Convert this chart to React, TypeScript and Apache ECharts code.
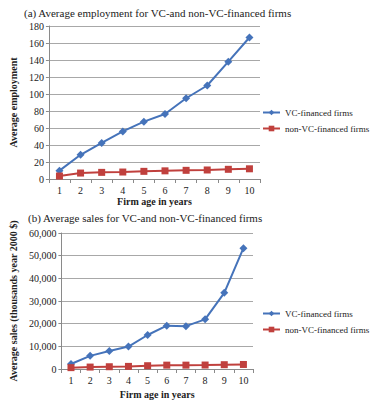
import React, { useEffect, useRef } from "react";
import * as echarts from "echarts";

const ages = ["1", "2", "3", "4", "5", "6", "7", "8", "9", "10"];
const empVC = [9.8, 28.5, 42.5, 56, 67.5, 76.5, 95, 110, 138, 166.5];
const empNonVC = [3.5, 7, 7.8, 8.2, 9, 9.6, 10.2, 10.6, 11.4, 12];
const salesVC = [2200, 5800, 7900, 9900, 15000, 19100, 18900, 21900, 33600, 53300];
const salesNonVC = [600, 850, 1000, 1150, 1450, 1700, 1700, 1750, 1900, 2000];

const titleA = "(a) Average employment for VC-and non-VC-financed firms";
const titleB = "(b) Average sales for VC-and non-VC-financed firms";
const seriesNames = ["VC-financed firms", "non-VC-financed firms"];

const FONT = "Liberation Serif";
const BLUE = "#4573BA";
const RED = "#C0403D";
const TXT = "#222";

export default function App() {
  const ref = useRef<HTMLDivElement>(null);
  useEffect(() => {
    if (!ref.current) return;
    const chart = echarts.init(ref.current, undefined, { renderer: "svg" });
    const xAxisBase = (gridIndex: number, nameGap: number) => ({
      type: "category",
      gridIndex,
      data: ages,
      boundaryGap: true,
      name: "Firm age in years",
      nameLocation: "middle",
      nameGap,
      nameTextStyle: { fontFamily: FONT, fontSize: 10, fontWeight: "bold", color: TXT },
      axisLine: { lineStyle: { color: "#8a8a8a" } },
      axisTick: { show: true, length: 4, lineStyle: { color: "#8a8a8a" } },
      axisLabel: { fontFamily: FONT, fontSize: 10, color: TXT, margin: 6 },
    });
    const yAxisBase = (gridIndex: number, name: string, max: number, interval: number, nameGap: number, fmt?: (v: number) => string) => ({
      type: "value",
      gridIndex,
      min: 0,
      max,
      interval,
      name,
      nameLocation: "middle",
      nameGap,
      nameTextStyle: { fontFamily: FONT, fontSize: 10, fontWeight: "bold", color: TXT },
      axisLine: { show: true, lineStyle: { color: "#8a8a8a" } },
      axisTick: { show: true, length: 3, lineStyle: { color: "#8a8a8a" } },
      axisLabel: { fontFamily: FONT, fontSize: 10, color: TXT, margin: 5, formatter: fmt },
      splitLine: { lineStyle: { color: "#a8a8a8" } },
    });
    const vcStyle = {
      type: "line",
      symbol: "diamond",
      symbolSize: 8,
      itemStyle: { color: BLUE },
      lineStyle: { color: BLUE, width: 2 },
    };
    const nonStyle = {
      type: "line",
      symbol: "rect",
      symbolSize: 7,
      itemStyle: { color: RED },
      lineStyle: { color: RED, width: 2 },
    };
    const legendBase = {
      data: seriesNames,
      orient: "vertical",
      itemWidth: 17,
      itemHeight: 7,
      itemGap: 7,
      padding: 0,
      textStyle: { fontFamily: FONT, fontSize: 9, color: TXT },
    };
    const titleStyle = { fontFamily: FONT, fontSize: 11, fontWeight: "normal", color: TXT };
    chart.setOption({
      animation: false,
      backgroundColor: "#fff",
      textStyle: { fontFamily: FONT },
      title: [
        { text: titleA, left: 24, top: 7, padding: 0, textStyle: titleStyle },
        { text: titleB, left: 28, top: 212, padding: 0, textStyle: titleStyle },
      ],
      legend: [
        { ...legendBase, left: 262, top: 108 },
        { ...legendBase, left: 262, top: 309 },
      ],
      grid: [
        { left: 43, right: 110, top: 26, bottom: 221 },
        { left: 57, right: 117, top: 233, bottom: 29 },
      ],
      xAxis: [xAxisBase(0, 17), xAxisBase(1, 20)],
      yAxis: [
        yAxisBase(0, "Average employment", 180, 20, 27),
        yAxisBase(1, "Average sales (thousands year 2000 $)", 60000, 10000, 41, (v: number) => v.toLocaleString("en-US")),
      ],
      series: [
        { ...vcStyle, name: seriesNames[0], xAxisIndex: 0, yAxisIndex: 0, data: empVC },
        { ...nonStyle, name: seriesNames[1], xAxisIndex: 0, yAxisIndex: 0, data: empNonVC },
        { ...vcStyle, name: seriesNames[0], xAxisIndex: 1, yAxisIndex: 1, data: salesVC },
        { ...nonStyle, name: seriesNames[1], xAxisIndex: 1, yAxisIndex: 1, data: salesNonVC },
      ],
    });
    return () => chart.dispose();
  }, []);
  return <div ref={ref} style={{ width: 370, height: 400, position: "absolute", left: 0, top: 0 }} />;
}
